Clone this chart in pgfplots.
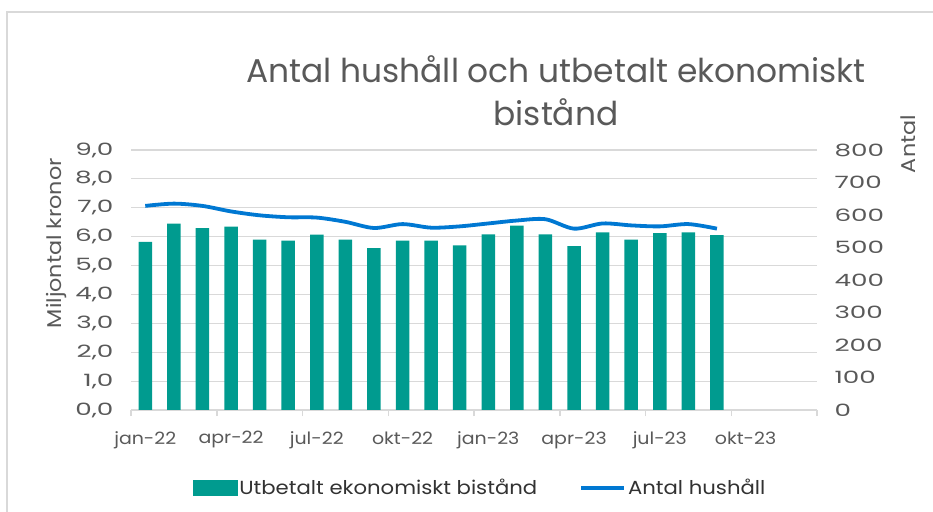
\documentclass[border=0pt]{standalone}
\usepackage{pgfplots}
\pgfplotsset{compat=1.18}
\usepackage{fontspec}
\setmainfont{Poppins}
\newfontfamily\cg[FakeStretch=1.12]{Poppins}
\newfontfamily\cgnum[FakeStretch=1.55]{Poppins}
\definecolor{barteal}{RGB}{0,155,143}
\definecolor{lineblue}{RGB}{0,120,210}
\definecolor{txt}{RGB}{89,89,89}
\definecolor{legtxt}{RGB}{50,50,50}
\definecolor{gridc}{RGB}{217,217,217}
\pgfplotstableread{
x y
0.5 5.82
1.5 6.45
2.5 6.30
3.5 6.35
4.5 5.90
5.5 5.86
6.5 6.07
7.5 5.90
8.5 5.60
9.5 5.86
10.5 5.86
11.5 5.70
12.5 6.08
13.5 6.38
14.5 6.08
15.5 5.67
16.5 6.15
17.5 5.90
18.5 6.12
19.5 6.15
20.5 6.05
}\bars
\pgfplotstableread{
x y
0.5 628
1.5 635
2.5 628
3.5 611
4.5 599
5.5 593
6.5 592
7.5 579
8.5 560
9.5 572
10.5 561
11.5 565
12.5 574
13.5 583
14.5 587
15.5 558
16.5 574
17.5 568
18.5 565
19.5 572
20.5 558
}\hush
\pgfplotsset{common/.style={
  scale only axis, width=686bp, height=260bp, at={(131bp,102bp)}, anchor=south west,
  xmin=0, xmax=24,
  yticklabel style={font=\cgnum\fontsize{17}{20}\selectfont, text=txt},
  xticklabel style={font=\cg\fontsize{17}{20}\selectfont, text=txt},
  label style={font=\cg\fontsize{20}{24}\selectfont, text=txt},
  /pgf/number format/assume math mode=true,
  major tick length=0pt,
}}
\begin{document}
\begin{tikzpicture}
\path[use as bounding box] (0,0) rectangle (933bp,512bp);
\draw[gridc, line width=1.5bp] (7bp,0) -- (7bp,500bp) -- (933bp,500bp);
\node[align=center, font=\fontsize{33}{43}\selectfont, text=txt] at (556bp,421bp) {Antal hushåll och utbetalt ekonomiskt\\bistånd};
\begin{axis}[common,
  ymin=0, ymax=9, ytick={0,1,...,9},
  ymajorgrids, grid style={gridc, line width=1.2bp},
  axis x line*=bottom, axis y line*=left,
  y axis line style={draw=none},
  x axis line style={gridc, line width=1.5bp, -},
  xtick={0.5,3.5,...,21.5},
  xticklabels={jan-22,apr-22,jul-22,okt-22,jan-23,apr-23,jul-23,okt-23},
  minor xtick={0,3,...,24},
  minor tick length=6bp,
  tick align=outside,
  minor tick style={gridc, line width=1.5bp},
  xticklabel style={yshift=-18bp},
  yticklabel style={xshift=-14bp, /pgf/number format/fixed, /pgf/number format/fixed zerofill, /pgf/number format/precision=1, /pgf/number format/use comma},
  ylabel={Miljontal kronor},
  ylabel style={at={(axis description cs:-0.108,0.642)}, anchor=center},
]
\addplot[ybar, bar width=13.5bp, fill=barteal, draw=none] table {\bars};
\end{axis}
\begin{axis}[common,
  ymin=0, ymax=800, ytick={0,100,...,800},
  axis y line*=right, axis x line=none,
  y axis line style={draw=none},
  yticklabel style={xshift=14bp, /pgf/number format/fixed, /pgf/number format/precision=0, /pgf/number format/1000 sep={}},
  ylabel={Antal},
  ylabel style={at={(axis description cs:1.133,1.023)}, anchor=center},
  legend style={at={(0.509,-0.30)}, anchor=center, draw=none, fill=none,
    font=\cg\fontsize{19}{22}\selectfont, text=legtxt,
    /tikz/every even column/.append style={column sep=40bp},
    nodes={inner sep=2bp}},
  legend columns=2,
]
\addlegendimage{legend image code/.code={\fill[barteal] (0bp,-7.5bp) rectangle (44bp,7.5bp);}}
\addlegendentry{Utbetalt ekonomiskt bistånd}
\addplot[lineblue, line width=3.8bp, smooth, tension=0.5,
  legend image code/.code={\draw[lineblue, line width=3.8bp] (0bp,0bp) -- (43bp,0bp);}] table {\hush};
\addlegendentry{Antal hushåll}
\end{axis}
\end{tikzpicture}
\end{document}
